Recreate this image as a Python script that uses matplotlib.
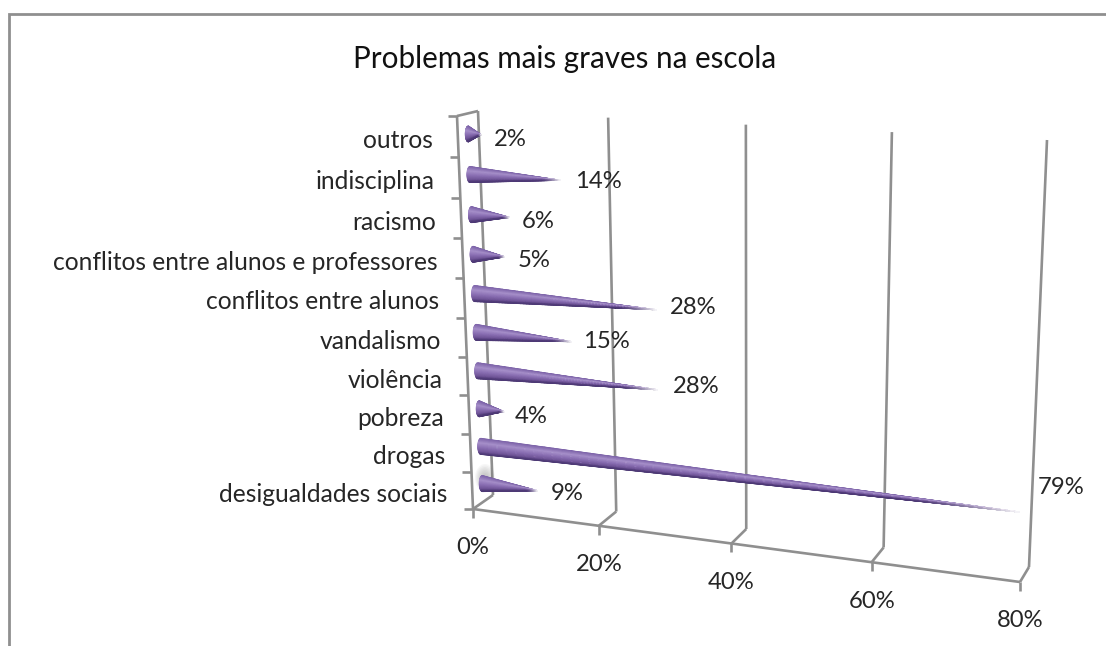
import matplotlib
matplotlib.use('Agg')
import matplotlib.pyplot as plt
import numpy as np
from matplotlib.colors import LinearSegmentedColormap, to_rgb
from matplotlib.patches import Ellipse

categorias = ['desigualdades sociais', 'drogas', 'pobreza', 'violência', 'vandalismo',
              'conflitos entre alunos', 'conflitos entre alunos e professores',
              'racismo', 'indisciplina', 'outros']
valores = [9, 79, 4, 28, 15, 28, 5, 6, 14, 2]
eixo_x = [0, 20, 40, 60, 80]

# desvio de cada rótulo de valor em relação à ponta do cone
desvio_rotulo = [(13, 3), (19, -25), (11, 5), (16, -3), (12, 0),
                 (14, -2), (13, 4), (12, 4), (15, 1), (13, 5)]

plt.rcParams['font.family'] = ['Lato', 'DejaVu Sans']
CINZA = '#8f8f8f'
TEXTO = '#262626'
TAM_CAT = 17.7
TAM_NUM = 17.2
TAM_TIT = 21.3


def homografia(cantos):
    # cantos: (v, c) = (0,0), (0,10), (80,0), (80,10) em pixels
    src = [(0, 0), (0, 10), (80, 0), (80, 10)]
    A, b = [], []
    for (u, w), (x, y) in zip(src, cantos):
        A.append([u, w, 1, 0, 0, 0, -u * x, -w * x])
        A.append([0, 0, 0, u, w, 1, -u * y, -w * y])
        b += [x, y]
    h = np.linalg.solve(np.array(A, float), np.array(b, float))
    return np.append(h, 1).reshape(3, 3)


H_FRENTE = homografia([(473, 509), (457, 116), (1020, 582), (1035, 145)])
H_FUNDO = homografia([(493, 495), (478, 111), (1029, 567), (1047, 140)])


def proj(H, v, c):
    p = H @ np.array([v, c, 1.0])
    return p[:2] / p[2]


def ponto(v, c, d=0.5):
    # d = 0 plano da frente, d = 1 plano do fundo
    return (1 - d) * proj(H_FRENTE, v, c) + d * proj(H_FUNDO, v, c)


fig = plt.figure(figsize=(11.06, 6.46), dpi=100, facecolor='white')
ax = fig.add_axes([0, 0, 1, 1])
ax.set_xlim(0, 1106)
ax.set_ylim(646, 0)
ax.axis('off')


def linha(a, b, lw=1.9, cor=CINZA):
    ax.plot([a[0], b[0]], [a[1], b[1]], color=cor, lw=lw, solid_capstyle='butt', zorder=1)


# moldura
ax.plot([9, 9, 1106], [646, 14, 14], color=CINZA, lw=2.0, solid_joinstyle='miter')

# parede lateral, grade e piso
linha(ponto(0, 0, 0), ponto(0, 10, 0))
linha(ponto(0, 10, 0), ponto(0, 10, 1))
linha(ponto(0, 0, 0), ponto(80, 0, 0))
for v in eixo_x:
    linha(ponto(v, 0, 1), ponto(v, 10, 1))
    linha(ponto(v, 0, 0), ponto(v, 0, 1))
    f = ponto(v, 0, 0)
    linha(f, f + np.array([0, 9]))
    ax.text(f[0], f[1] + 39, f'{v}%', ha='center', va='center', fontsize=TAM_NUM, color=TEXTO)
for c in range(11):
    f = ponto(0, c, 0)
    linha(f, f - np.array([9, 0]))

# sombra junto à base do primeiro cone
for k in range(8):
    ax.add_patch(Ellipse((485, 478), 20 - 2 * k, 28 - 3 * k, color='#777777', alpha=0.06, lw=0, zorder=1.5))

cmap = LinearSegmentedColormap.from_list('cone', [
    (0.0, '#7d63a9'), (0.3, '#a891cb'), (0.6, '#8a6fb3'),
    (0.85, '#715699'), (1.0, '#4c3874')])
MEIA_ALTURA = 8.0
TAMPA = 3.0

for i, (nome, val) in enumerate(zip(categorias, valores)):
    base = ponto(0, i + 0.5)
    ponta = ponto(val, i + 0.5)
    u = np.linspace(0, 1, 60)
    s = np.linspace(-1, 1, 33)
    U, S = np.meshgrid(u, s)
    X = base[0] + (ponta[0] - base[0]) * U - TAMPA * np.sqrt(1 - S ** 2) * (1 - U)
    Y = base[1] + (ponta[1] - base[1]) * U + MEIA_ALTURA * S * (1 - U)
    cores = cmap((S + 1) / 2)[..., :3]
    # a ponta vai clareando até sumir no fundo
    fade = np.clip((U - 0.8) / 0.2, 0, 1)[..., None] ** 1.5
    cores = cores * (1 - fade) + np.array(to_rgb('white')) * fade
    ax.pcolormesh(X, Y, cores, shading='gouraud', zorder=2)

    # rótulos
    frente = ponto(0, i + 0.5, 0)
    ax.text(frente[0] - 25, frente[1] + 4, nome, ha='right', va='center', fontsize=TAM_CAT, color=TEXTO, zorder=3)
    dx, dy = desvio_rotulo[i]
    ax.text(ponta[0] + dx, ponta[1] + dy, f'{val}%', ha='left', va='center', fontsize=TAM_NUM, color=TEXTO, zorder=3)

ax.text(565, 59, 'Problemas mais graves na escola', ha='center', va='center', fontsize=TAM_TIT, color='#111111')

fig.savefig('out.png', dpi=100)
